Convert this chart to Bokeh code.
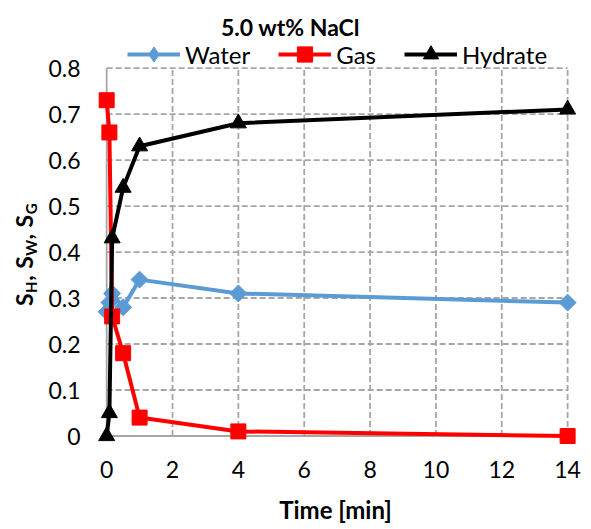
import math
from bokeh.plotting import figure
from bokeh.layouts import row
from bokeh.models import Label, Legend, LegendItem, FixedTicker, Div
from bokeh.embed import file_html
from bokeh.resources import INLINE

# ---- data ----
time_min = [0, 0.083, 0.167, 0.5, 1, 4, 14]
water = [0.27, 0.29, 0.31, 0.28, 0.34, 0.31, 0.29]
gas = [0.73, 0.66, 0.26, 0.18, 0.04, 0.01, 0.0]
hydrate = [0.0, 0.05, 0.43, 0.54, 0.63, 0.68, 0.71]

x_ticks = [0, 2, 4, 6, 8, 10, 12, 14]
y_ticks = [0, 0.1, 0.2, 0.3, 0.4, 0.5, 0.6, 0.7, 0.8]
y_tick_labels = ["0", "0.1", "0.2", "0.3", "0.4", "0.5", "0.6", "0.7", "0.8"]

title_text = "5.0 wt% NaCl"
x_label = "Time [min]"
y_label_main = ["S", ", S", ", S"]
y_label_sub = ["H", "W", "G"]

FONT = "Lato"
GRID = "#a6a6a6"
C_WATER = "#5B9BD5"
C_GAS = "#FF0000"
C_HYD = "#000000"

H = 527
LW = 40  # width of the y-label strip

# ---------- main chart ----------
p = figure(width=551, height=H, x_range=(-0.4, 14.3), y_range=(-0.025, 0.936),
           min_border_left=53, min_border_right=14, min_border_top=5, min_border_bottom=80,
           output_backend="svg", toolbar_location=None, title=None)
p.outline_line_color = None
p.xgrid.visible = False
p.ygrid.visible = False

# dashed grid limited to the data area
xg = x_ticks[1:]
p.segment(x0=xg, y0=[y_ticks[0]] * len(xg), x1=xg, y1=[y_ticks[-1]] * len(xg),
          line_color=GRID, line_dash="6 3", line_width=1.8)
yg = y_ticks[1:]
p.segment(x0=[x_ticks[0]] * len(yg), y0=yg, x1=[x_ticks[-1]] * len(yg), y1=yg,
          line_color=GRID, line_dash="6 3", line_width=1.8)
# axis lines
p.segment(x0=[x_ticks[0]], y0=[y_ticks[0]], x1=[x_ticks[0]], y1=[y_ticks[-1]],
          line_color=GRID, line_width=1.8)
p.segment(x0=[x_ticks[0]], y0=[y_ticks[0]], x1=[x_ticks[-1]], y1=[y_ticks[0]],
          line_color=GRID, line_width=1.8)

lw = p.line(time_min, water, line_color=C_WATER, line_width=4)
sw = p.scatter(time_min, water, marker="square", angle=math.pi / 4, size=12,
               fill_color=C_WATER, line_color=C_WATER)
# zero-size diamond renderer: only its legend glyph is visible
sw_leg = p.scatter(time_min, water, marker="diamond", size=0,
                   fill_color=C_WATER, line_color=C_WATER)
lg = p.line(time_min, gas, line_color=C_GAS, line_width=4)
sg = p.scatter(time_min, gas, marker="square", size=15, fill_color=C_GAS, line_color=C_GAS)
lh = p.line(time_min, hydrate, line_color=C_HYD, line_width=4)
sh = p.scatter(time_min, hydrate, marker="triangle", size=16, fill_color=C_HYD, line_color=C_HYD)

# axes
for ax in (p.xaxis[0], p.yaxis[0]):
    ax.axis_line_color = None
    ax.major_tick_line_color = None
    ax.minor_tick_line_color = None
    ax.major_label_text_font = FONT
    ax.major_label_text_font_size = "23px"
    ax.major_label_text_color = "black"
p.xaxis.ticker = FixedTicker(ticks=x_ticks)
p.yaxis.ticker = FixedTicker(ticks=y_ticks)
p.yaxis.major_label_overrides = {t: l for t, l in zip(y_ticks, y_tick_labels)}
p.xaxis.major_label_standoff = 7
p.yaxis.major_label_standoff = 7
p.xaxis.axis_label = x_label
p.xaxis.axis_label_text_font = FONT
p.xaxis.axis_label_text_font_style = "bold"
p.xaxis.axis_label_text_font_size = "24px"
p.xaxis.axis_label_text_color = "black"
p.xaxis.axis_label_standoff = 14

# legend (inside the extended frame, above the data area)
legend = Legend(items=[LegendItem(label="Water", renderers=[lw, sw_leg]),
                       LegendItem(label="Gas", renderers=[lg, sg]),
                       LegendItem(label="Hydrate", renderers=[lh, sh])],
                orientation="horizontal", location=(34, 374),
                glyph_width=53, glyph_height=38, label_height=38,
                label_standoff=5, spacing=28, padding=0, margin=0,
                label_text_font=FONT, label_text_font_size="24px",
                label_text_color="black",
                background_fill_alpha=0, border_line_color=None)
p.add_layout(legend, "center")

# title
p.add_layout(Label(x=197, y=421, x_units="screen", y_units="screen", text=title_text,
                   text_font=FONT, text_font_style="bold", text_font_size="23px",
                   text_align="center", text_baseline="alphabetic", text_color="black"))

# ---------- y-axis label strip: S_H, S_W, S_G (rotated HTML text with subscripts) ----------
sub_style = "font-size:15px;vertical-align:-4px;"
html_parts = "".join(f"{m}<span style='{sub_style}'>{s}</span>"
                     for m, s in zip(y_label_main, y_label_sub))
y_html = ("<div style=\"font-family:Lato;font-weight:bold;font-size:23px;line-height:23px;"
          "letter-spacing:0.5px;white-space:nowrap;width:max-content;color:black;"
          "transform-origin:0 0;transform:translate(13px,306px) rotate(-90deg);\">"
          + html_parts + "</div>")
ylab = Div(text=y_html, width=LW, height=H, margin=0,
           styles={"overflow": "visible", "padding": "0", "margin": "0"})

layout = row(ylab, p, spacing=0)
open("out.html", "w").write(file_html(layout, INLINE))
